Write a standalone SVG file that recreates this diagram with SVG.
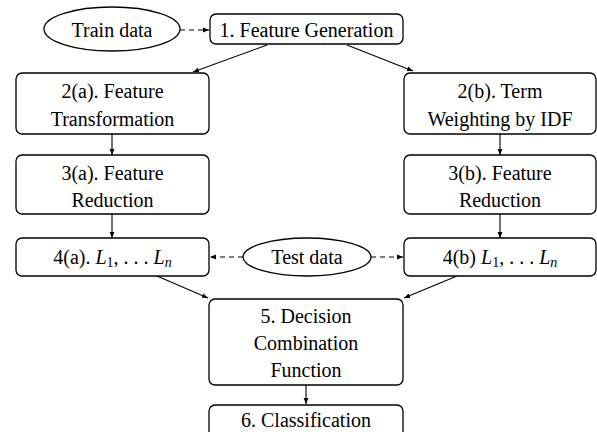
<svg xmlns="http://www.w3.org/2000/svg" width="597" height="432" viewBox="0 0 597 432">
<style>
.box{fill:#fff;stroke:#000;stroke-width:1.3}
.t{font-family:"Liberation Serif","Times New Roman",serif;font-size:20px;fill:#000;text-anchor:middle}
.c{fill:none;stroke:#000;stroke-width:1.1}
.d{stroke-dasharray:5,4}
.i{font-style:italic}
.s{font-size:14px}
</style>
<defs>
<marker id="a" viewBox="0 0 10 10" refX="10" refY="5" markerWidth="6" markerHeight="6" markerUnits="userSpaceOnUse" orient="auto">
<path d="M0,1 L10,5 L0,9 Z" fill="#000"/>
</marker>
</defs>
<g id="connectors">
<line class="c d" x1="180" y1="30" x2="209" y2="30" marker-end="url(#a)"/>
<line class="c" x1="267" y1="45" x2="193" y2="72" marker-end="url(#a)"/>
<line class="c" x1="347" y1="45" x2="413" y2="71" marker-end="url(#a)"/>
<line class="c" x1="112" y1="134" x2="112" y2="155" marker-end="url(#a)"/>
<line class="c" x1="500" y1="134" x2="500" y2="155" marker-end="url(#a)"/>
<line class="c" x1="112" y1="214" x2="112" y2="238" marker-end="url(#a)"/>
<line class="c" x1="500" y1="214" x2="500" y2="238" marker-end="url(#a)"/>
<line class="c d" x1="243" y1="257" x2="210" y2="257" marker-end="url(#a)"/>
<line class="c d" x1="371" y1="257" x2="403" y2="257" marker-end="url(#a)"/>
<line class="c" x1="157" y1="276" x2="208" y2="298" marker-end="url(#a)"/>
<line class="c" x1="457" y1="276" x2="404" y2="298" marker-end="url(#a)"/>
<line class="c" x1="306" y1="385" x2="306" y2="404" marker-end="url(#a)"/>
</g>
<g id="train">
<ellipse class="box" cx="112" cy="29" rx="68" ry="22"/>
<text class="t" font-family="Liberation Serif" x="112" y="37">Train data</text>
</g>
<g id="n1">
<rect class="box" x="210" y="14" width="193" height="30" rx="6"/>
<text class="t" font-family="Liberation Serif" x="306.5" y="37">1. Feature Generation</text>
</g>
<g id="n2a">
<rect class="box" x="16" y="73" width="193" height="61" rx="6"/>
<text class="t" font-family="Liberation Serif" x="112.5" y="98">2(a). Feature</text>
<text class="t" font-family="Liberation Serif" x="112.5" y="126">Transformation</text>
</g>
<g id="n2b">
<rect class="box" x="404" y="73" width="192" height="61" rx="6"/>
<text class="t" font-family="Liberation Serif" x="500" y="98">2(b). Term</text>
<text class="t" font-family="Liberation Serif" x="500" y="126">Weighting by IDF</text>
</g>
<g id="n3a">
<rect class="box" x="16" y="155" width="193" height="59" rx="6"/>
<text class="t" font-family="Liberation Serif" x="112.5" y="180">3(a). Feature</text>
<text class="t" font-family="Liberation Serif" x="112.5" y="207">Reduction</text>
</g>
<g id="n3b">
<rect class="box" x="404" y="155" width="192" height="59" rx="6"/>
<text class="t" font-family="Liberation Serif" x="500" y="180">3(b). Feature</text>
<text class="t" font-family="Liberation Serif" x="500" y="207">Reduction</text>
</g>
<g id="n4a">
<rect class="box" x="16" y="238" width="193" height="38" rx="6"/>
<text class="t" font-family="Liberation Serif" x="112.5" y="264">4(a). <tspan class="i">L</tspan><tspan class="s" dy="3">1</tspan><tspan dy="-3">, . . . </tspan><tspan class="i">L</tspan><tspan class="s i" dy="3">n</tspan></text>
</g>
<g id="test">
<ellipse class="box" cx="307" cy="257" rx="64" ry="19"/>
<text class="t" font-family="Liberation Serif" x="307" y="264">Test data</text>
</g>
<g id="n4b">
<rect class="box" x="404" y="238" width="192" height="38" rx="6"/>
<text class="t" font-family="Liberation Serif" x="500" y="264">4(b) <tspan class="i">L</tspan><tspan class="s" dy="3">1</tspan><tspan dy="-3">, . . . </tspan><tspan class="i">L</tspan><tspan class="s i" dy="3">n</tspan></text>
</g>
<g id="n5">
<rect class="box" x="209" y="299" width="194" height="86" rx="6"/>
<text class="t" font-family="Liberation Serif" x="306" y="323">5. Decision</text>
<text class="t" font-family="Liberation Serif" x="306" y="350">Combination</text>
<text class="t" font-family="Liberation Serif" x="306" y="377">Function</text>
</g>
<g id="n6">
<rect class="box" x="209" y="405" width="194" height="34" rx="6"/>
<text class="t" font-family="Liberation Serif" x="306" y="427">6. Classification</text>
</g>
</svg>
